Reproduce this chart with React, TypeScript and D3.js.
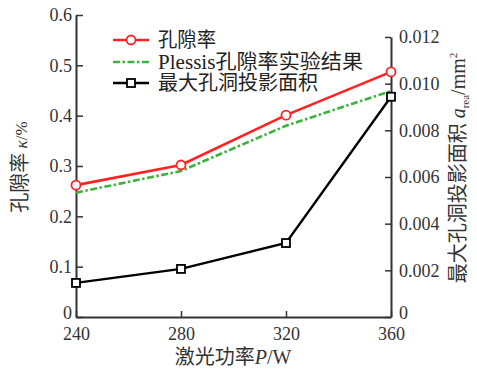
import React, { useEffect, useRef } from "react";
import * as d3 from "d3";

const power = [240, 280, 320, 360];
const porosity = [0.262, 0.302, 0.401, 0.487];
const plessis = [0.247, 0.29, 0.38, 0.449];
const maxArea = [0.00146, 0.00206, 0.00317, 0.00944];
const leftTicks = [0, 0.1, 0.2, 0.3, 0.4, 0.5, 0.6];
const rightTicks = [0, 0.002, 0.004, 0.006, 0.008, 0.01, 0.012];
const legendLabels = ["孔隙率", "Plessis孔隙率实验结果", "最大孔洞投影面积"];

const FONT = "'Liberation Serif', 'Noto Sans CJK SC', serif";
const AXIS = "#333";

function App() {
  const ref = useRef<SVGSVGElement>(null);

  useEffect(() => {
    const svg = d3.select(ref.current);
    svg.selectAll("*").remove();

    const x = d3.scaleLinear().domain([240, 360]).range([76, 391]);
    const yL = d3.scaleLinear().domain([0, 0.6]).range([317, 15]);
    const yR = d3.scaleLinear().domain([0, 0.012]).range([317, 37]);

    // axes
    const left = svg
      .append("g")
      .attr("transform", "translate(76,0)")
      .call(
        d3
          .axisLeft(yL)
          .tickValues(leftTicks)
          .tickSize(-7)
          .tickPadding(4)
          .tickSizeOuter(0)
          .tickFormat((d: any) => (d === 0 ? "0" : d3.format(".1f")(d)))
      );
    const right = svg
      .append("g")
      .attr("transform", "translate(391,0)")
      .call(
        d3
          .axisRight(yR)
          .tickValues(rightTicks)
          .tickSize(-6)
          .tickPadding(8)
          .tickSizeOuter(0)
          .tickFormat((d: any) => (d === 0 ? "0" : d3.format(".3f")(d)))
      );
    const bottom = svg
      .append("g")
      .attr("transform", "translate(0,317)")
      .call(
        d3
          .axisBottom(x)
          .tickValues(power)
          .tickSize(-6)
          .tickPadding(10)
          .tickSizeOuter(0)
          .tickFormat(d3.format("d") as any)
      );
    [left, right, bottom].forEach((g) => {
      g.attr("font-family", null);
      g.selectAll("path").attr("stroke", AXIS).attr("stroke-width", 2);
      g.selectAll("line").attr("stroke", AXIS).attr("stroke-width", 1.5);
      g.selectAll("text")
        .style("font-family", FONT)
        .attr("font-size", 18)
        .attr("fill", "#333");
    });
    // zero labels sit a little above the corner, as in the print
    [left, right].forEach((g) =>
      g
        .selectAll(".tick text")
        .filter((d: any) => d === 0)
        .attr("dy", "0.1em")
    );

    // series
    const lineL = d3
      .line<number>()
      .x((d, i) => x(power[i]))
      .y((d) => yL(d));
    const lineR = d3
      .line<number>()
      .x((d, i) => x(power[i]))
      .y((d) => yR(d));

    svg
      .append("path")
      .attr("d", lineL(plessis))
      .attr("fill", "none")
      .attr("stroke", "#3cb43c")
      .attr("stroke-width", 2.6)
      .attr("stroke-dasharray", "7,2.5,2.5,2.5");

    svg
      .append("path")
      .attr("d", lineL(porosity))
      .attr("fill", "none")
      .attr("stroke", "#f22")
      .attr("stroke-width", 2.6);
    svg
      .append("g")
      .selectAll("circle")
      .data(porosity)
      .join("circle")
      .attr("cx", (d, i) => x(power[i]))
      .attr("cy", (d) => yL(d))
      .attr("r", 4.5)
      .attr("fill", "white")
      .attr("stroke", "#f22")
      .attr("stroke-width", 1.8);

    svg
      .append("path")
      .attr("d", lineR(maxArea))
      .attr("fill", "none")
      .attr("stroke", "black")
      .attr("stroke-width", 2.4);
    svg
      .append("g")
      .selectAll("rect")
      .data(maxArea)
      .join("rect")
      .attr("x", (d, i) => x(power[i]) - 4)
      .attr("y", (d) => yR(d) - 4)
      .attr("width", 8)
      .attr("height", 8)
      .attr("fill", "white")
      .attr("stroke", "black")
      .attr("stroke-width", 1.8);

    // legend
    const legendY = [40, 62, 83];
    const lengths = [58, 205, 160];
    const leg = svg.append("g");
    legendY.forEach((ly, i) => {
      const line = leg
        .append("line")
        .attr("x1", 113)
        .attr("x2", 149)
        .attr("y1", ly)
        .attr("y2", ly)
        .attr("stroke-width", 2.6);
      if (i === 0) {
        line.attr("stroke", "#f22");
        leg
          .append("circle")
          .attr("cx", 131)
          .attr("cy", ly)
          .attr("r", 4.5)
          .attr("fill", "white")
          .attr("stroke", "#f22")
          .attr("stroke-width", 1.8);
      } else if (i === 1) {
        line.attr("stroke", "#3cb43c").attr("stroke-dasharray", "7,2.5,2.5,2.5");
      } else {
        line.attr("stroke", "black");
        leg
          .append("rect")
          .attr("x", 127)
          .attr("y", ly - 4)
          .attr("width", 8)
          .attr("height", 8)
          .attr("fill", "white")
          .attr("stroke", "black")
          .attr("stroke-width", 1.8);
      }
      leg
        .append("text")
        .attr("x", 158)
        .attr("y", ly + 7)
        .style("font-family", FONT)
        .attr("font-size", 20)
        .attr("fill", "#222")
        .attr("textLength", lengths[i])
        .attr("lengthAdjust", "spacingAndGlyphs")
        .text(legendLabels[i]);
    });

    // axis titles
    const lt = svg
      .append("text")
      .attr("transform", "translate(27,167) rotate(-90)")
      .attr("text-anchor", "middle")
      .style("font-family", FONT)
      .attr("font-size", 20)
      .attr("fill", "#333");
    lt.append("tspan").text("孔隙率");
    lt.append("tspan").attr("font-style", "italic").attr("font-size", 17).text(" κ");
    lt.append("tspan").attr("font-size", 17).text("/%");

    const rt = svg
      .append("text")
      .attr("transform", "translate(465,168) rotate(-90)")
      .attr("text-anchor", "middle")
      .style("font-family", FONT)
      .attr("font-size", 20)
      .attr("fill", "#333");
    rt.append("tspan").text("最大孔洞投影面积");
    rt.append("tspan").attr("font-style", "italic").text(" a");
    rt.append("tspan").attr("font-size", 11).attr("dy", 4).text("rea");
    rt.append("tspan").attr("dy", -4).text("/mm");
    rt.append("tspan").attr("font-size", 11).attr("dy", -8).text("2");

    const bt = svg
      .append("text")
      .attr("x", 233)
      .attr("y", 364)
      .attr("text-anchor", "middle")
      .style("font-family", FONT)
      .attr("font-size", 20)
      .attr("fill", "#333");
    bt.append("tspan").text("激光功率");
    bt.append("tspan").attr("font-style", "italic").text("P");
    bt.append("tspan").text("/W");
  }, []);

  return (
    <svg
      ref={ref}
      width={477}
      height={374}
      style={{ position: "absolute", left: 0, top: 0, background: "white" }}
    ></svg>
  );
}

export default App;
